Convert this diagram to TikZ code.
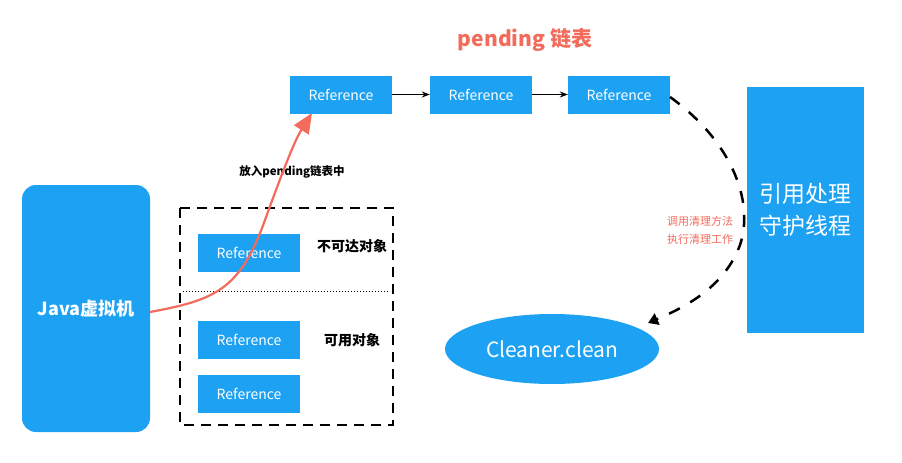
\documentclass[tikz,border=0pt]{standalone}
\usepackage{fontspec}
\setmainfont{Noto Sans CJK SC}
\usetikzlibrary{shapes.geometric,arrows.meta}
\definecolor{blu}{HTML}{1DA1F2}
\definecolor{rd}{HTML}{F26B5B}
\begin{document}
\begin{tikzpicture}[x=1pt,y=-1pt,
 ref/.style={fill=blu,text=white,minimum width=102pt,minimum height=38pt,inner sep=0pt,font=\fontsize{14}{16}\selectfont},
 lbl/.style={font=\bfseries\fontsize{14}{16}\selectfont}]
\useasboundingbox (0,0) rectangle (902,463);
\node[fill=blu,rounded corners=14pt,minimum width=128pt,minimum height=247pt,text=white,font=\bfseries\fontsize{18}{21}\selectfont] (jvm) at (86,308.5) {Java虚拟机};
\draw[line width=1.5pt,dash pattern=on 10pt off 7pt] (180,208) rectangle (393,425);
\draw[dotted,line width=1pt] (183,291) -- (390,291);
\node[ref] (r1) at (249,253) {Reference};
\node[ref] (r2) at (249,340) {Reference};
\node[ref] (r3) at (249,393.5) {Reference};
\node[lbl] (l1) at (352,246) {不可达对象};
\node[lbl] (l2) at (352,340) {可用对象};
\node[ref] (p1) at (341,94.5) {Reference};
\node[ref] (p2) at (481,94.5) {Reference};
\node[ref] (p3) at (619,94.5) {Reference};
\node[text=rd,font=\bfseries\fontsize{21}{24}\selectfont] (title) at (525,40) {pending 链表};
\draw[-{Stealth[length=8pt]},line width=1.2pt] (p1) -- (p2);
\draw[-{Stealth[length=8pt]},line width=1.2pt] (p2) -- (p3);
\node[fill=blu,minimum width=117pt,minimum height=246pt,text=white,align=center,font=\fontsize{23}{32}\selectfont] (th) at (805.5,210) {引用处理\\守护线程};
\node[ellipse,fill=blu,minimum width=214pt,minimum height=70pt,text=white,font=\fontsize{21}{24}\selectfont] (cl) at (552,349) {Cleaner.clean};
\node[text=rd,align=center,font=\fontsize{11}{18}\selectfont] (l3) at (700,230) {调用清理方法\\执行清理工作};
\node[font=\bfseries\fontsize{11.5}{13}\selectfont] (l4) at (292,172) {放入pending链表中};
\coordinate (js) at (150,312);
\draw[rd,line width=2.2pt,-{Triangle[length=20pt,width=17pt]}] (js) .. controls (215,300) and (240,290) .. (265,220) .. controls (285,165) and (295,140) .. (312,113);
\coordinate (ds) at (670,97);
\coordinate (de) at (648,323);
\draw[line width=2.5pt,dash pattern=on 12pt off 12pt,-{Triangle[length=10pt,width=12pt]}] (ds) .. controls (730,140) and (755,200) .. (740,245) .. controls (725,285) and (690,305) .. (de);
\end{tikzpicture}
\end{document}
